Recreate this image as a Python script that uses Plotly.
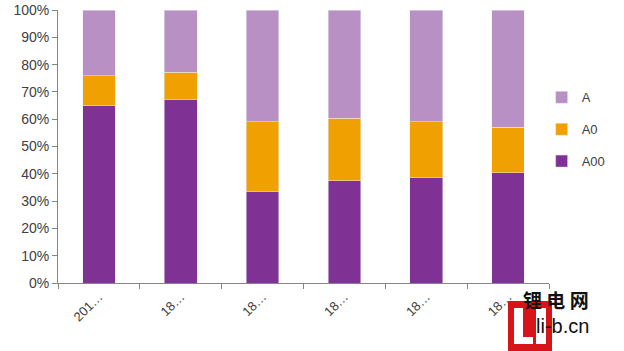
import plotly.graph_objects as go

tick_labels = ["201…", "18…", "18…", "18…", "18…", "18…"]
a00 = [65.0, 67.4, 33.7, 37.4, 38.8, 40.3]
a0 = [10.9, 9.8, 25.4, 23.0, 20.3, 16.8]
a = [24.1, 22.8, 40.9, 39.6, 40.9, 42.9]

x = list(range(len(tick_labels)))
font = "Liberation Sans, Arial, sans-serif"

fig = go.Figure()
fig.add_bar(x=x, y=a00, name="A00", marker_color="#7F3294",
            legendgroup="g3", legendrank=3)
fig.add_bar(x=x, y=a0, name="A0", marker_color="#F0A000",
            legendgroup="g2", legendrank=2)
fig.add_bar(x=x, y=a, name="A", marker_color="#B890C4",
            legendgroup="g1", legendrank=1)

fig.update_layout(
    width=624, height=351,
    margin=dict(l=58, r=75, t=10, b=68, autoexpand=False),
    barmode="stack", bargap=0.6,
    plot_bgcolor="white", paper_bgcolor="white",
    font=dict(family=font, size=13, color="#404040"),
    legend=dict(x=0.985, y=0.735, xanchor="left", yanchor="top",
                traceorder="grouped", tracegroupgap=12,
                itemwidth=30,
                font=dict(size=13, color="#404040")),
    xaxis=dict(type="category", tickvals=x, ticktext=tick_labels,
               tickangle=-45, tickson="boundaries", ticks="outside",
               ticklen=5, tickcolor="#868686", showline=True,
               linecolor="#868686", linewidth=1, showgrid=False,
               automargin=False, tickfont=dict(size=13)),
    yaxis=dict(range=[0, 100], tickvals=list(range(0, 101, 10)),
               ticktext=[f"{v}%" for v in range(0, 101, 10)],
               ticks="outside", ticklen=5, tickcolor="#868686",
               showline=True, linecolor="#868686", linewidth=1,
               automargin=False,
               showgrid=False, zeroline=False, tickfont=dict(size=14)),
)


def px_rect(x0, x1, y0, y1, color):
    fig.add_shape(type="rect", xref="paper", yref="paper",
                  x0=(x0 - 58) / 491, x1=(x1 - 58) / 491,
                  y0=(283 - y1) / 273, y1=(283 - y0) / 273,
                  fillcolor=color, line_width=0, layer="above")


# watermark logo
px_rect(508, 552, 301, 351, "#D7141A")
px_rect(514, 523, 308, 344, "white")
px_rect(514, 533, 337, 344, "white")
px_rect(536, 546, 308, 344, "white")
fig.add_annotation(xref="paper", yref="paper", x=(591 - 58) / 491,
                   y=(283 - 315) / 273, text="<b>锂 电 网</b>", showarrow=False,
                   font=dict(family="Noto Sans CJK SC", size=19, color="#111111"))
fig.add_annotation(xref="paper", yref="paper", x=(591 - 58) / 491,
                   y=(283 - 339) / 273, text="li-b.cn", showarrow=False,
                   font=dict(family=font, size=20, color="#111111"))

fig.write_html("out.html")
